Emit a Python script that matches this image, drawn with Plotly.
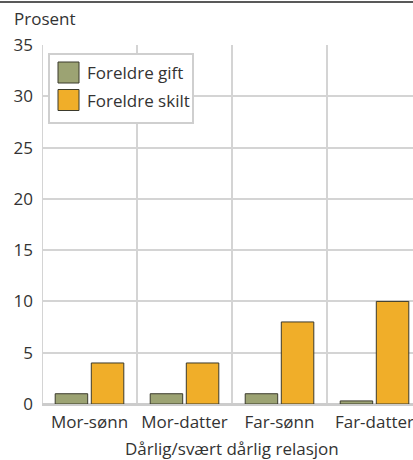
import plotly.graph_objects as go

categories = ["Mor-sønn", "Mor-datter", "Far-sønn", "Far-datter"]
gift = [1, 1, 1, 0.3]
skilt = [4, 4, 8, 10]
series_names = ["Foreldre gift", "Foreldre skilt"]
y_ticks = [0, 5, 10, 15, 20, 25, 30, 35]

FONT = "Open Sans"
FS = 17
TXT = "#333333"
GIFT_COL = "#9ca373"
SKILT_COL = "#f0ae29"
EDGE = "#3b3a2c"
GRID = "#d4d4d4"

W, H = 413, 460
ML, MT, MB = 42, 45, 56
PW, PH = W - ML, H - MT - MB
CAT_W = 95.0  # pixel width of one category


def px(x):
    return (x - ML) / PW


def py(y):
    return (H - MB - y) / PH


fig = go.Figure()
fig.add_trace(go.Bar(x=categories, y=gift, name=series_names[0], hoverinfo="skip",
                     marker=dict(color=GIFT_COL, line=dict(color=EDGE, width=1))))
fig.add_trace(go.Bar(x=categories, y=skilt, name=series_names[1], hoverinfo="skip",
                     marker=dict(color=SKILT_COL, line=dict(color=EDGE, width=1))))

n = len(categories)
shapes = []
for i in range(n):
    shapes.append(dict(type="line", xref="x", yref="y", x0=i - 0.5, x1=i - 0.5,
                       y0=0, y1=max(y_ticks), line=dict(color=GRID, width=2), layer="below"))
shapes.append(dict(type="line", xref="paper", yref="paper", x0=px(0), x1=px(W),
                   y0=py(2), y1=py(2), line=dict(color="#222", width=1.5)))

shapes.append(dict(type="rect", xref="paper", yref="paper", x0=px(49), x1=px(193),
                   y0=py(54), y1=py(123), fillcolor="white",
                   line=dict(color="#cfcfcf", width=2), layer="above"))
annotations = []
for k, (name, col) in enumerate(zip(series_names, [GIFT_COL, SKILT_COL])):
    top = 62 + k * 27.5
    shapes.append(dict(type="rect", xref="paper", yref="paper", x0=px(58), x1=px(79),
                       y0=py(top), y1=py(top + 21), fillcolor=col,
                       line=dict(color=EDGE, width=1), layer="above"))
    annotations.append(dict(text=name, xref="paper", yref="paper", x=px(85), y=py(top + 10.5),
                            xanchor="left", yanchor="middle", showarrow=False,
                            font=dict(size=FS, color=TXT)))

annotations += [
    dict(text="Prosent", xref="paper", yref="paper", x=px(12), y=py(19),
         xanchor="left", yanchor="middle", showarrow=False,
         font=dict(size=FS, color=TXT)),
    dict(text="Dårlig/svært dårlig relasjon", xref="x", yref="paper", x=(n - 1) / 2, y=py(449),
         xanchor="center", yanchor="middle", showarrow=False,
         font=dict(size=FS, color=TXT)),
]

fig.update_layout(
    width=W, height=H,
    margin=dict(l=ML, r=0, t=MT, b=MB, autoexpand=False),
    paper_bgcolor="white", plot_bgcolor="white",
    font=dict(family=FONT, size=FS, color=TXT),
    barmode="group", bargap=0.24, bargroupgap=0.1,
    showlegend=False,
    hovermode=False,
    xaxis=dict(range=[-0.5, -0.5 + PW / CAT_W], showgrid=False, ticks="",
               tickfont=dict(size=FS, color=TXT), showline=False, zeroline=False,
               ticklabelstandoff=6, fixedrange=True),
    yaxis=dict(range=[0, 35], tickvals=y_ticks, showgrid=True, gridcolor=GRID,
               gridwidth=2, zeroline=True, zerolinecolor="#cccccc", zerolinewidth=3,
               ticks="", tickfont=dict(size=FS, color=TXT), ticklabelstandoff=8,
               fixedrange=True),
    shapes=shapes,
    annotations=annotations,
)
fig.write_html("out.html", config={"displayModeBar": False},
               post_script="document.body.style.margin='0';")
